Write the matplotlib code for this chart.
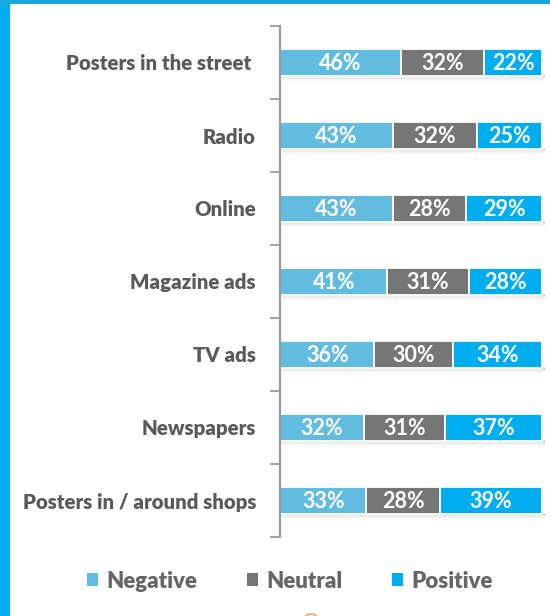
import matplotlib
matplotlib.use("Agg")
import matplotlib.pyplot as plt
from matplotlib.patches import Rectangle, Patch, Arc
import numpy as np

categories = ["Posters in the street ", "Radio", "Online", "Magazine ads",
              "TV ads", "Newspapers", "Posters in / around shops"]
negative = [46, 43, 43, 41, 36, 32, 33]
neutral = [32, 32, 28, 31, 30, 31, 28]
positive = [22, 25, 29, 28, 34, 37, 39]
series_names = ["Negative", "Neutral", "Positive"]
colors = ["#62BCE0", "#767676", "#00ADEF"]

plt.rcParams['font.family'] = ['Lato', 'DejaVu Sans']

W, H = 550, 616
fig = plt.figure(figsize=(W / 100, H / 100), dpi=100)

# axes placement (pixels)
ax_left, ax_right, ax_top, ax_bottom = 280, 545, 26, 537
ax = fig.add_axes([ax_left / W, 1 - ax_bottom / H, (ax_right - ax_left) / W, (ax_bottom - ax_top) / H])

n = len(categories)
y = np.arange(n)
bar_h = 0.38
px = 1 / 73.0  # one pixel in data y units

# shadows
for yi in y:
    for k in range(6):
        a = 0.13 * (1 - k / 6)
        ax.add_patch(Rectangle((0.6, yi + bar_h / 2 + k * px * 0.9 - px), 100.6, px * 1.2,
                               facecolor="black", alpha=a, edgecolor="none", zorder=1))

data = [negative, neutral, positive]
left = np.zeros(n)
for vals, c, name in zip(data, colors, series_names):
    vals = np.array(vals, dtype=float)
    bars = ax.barh(y, vals, left=left, height=bar_h, color=c, edgecolor="white",
                   linewidth=1.3, zorder=2, label=name)
    for b, v in zip(bars, vals):
        ax.text(b.get_x() + b.get_width() / 2, b.get_y() + b.get_height() / 2 + 0.01,
                f"{int(v)}%", ha="center", va="center", color="white",
                fontsize=15.5, fontweight=700, zorder=3)
    left += vals

ax.set_xlim(0, 101.1)
ax.set_ylim(n - 0.5, -0.5)
ax.set_xticks([])
ax.set_yticks(y)
ax.set_yticklabels(categories, fontsize=14.7, fontweight=800, color="#5A5A5A")
ax.tick_params(axis="y", which="major", length=0, pad=17.3)
ax.set_yticks(np.arange(-0.5, n, 1.0), minor=True)
ax.tick_params(axis="y", which="minor", length=7, width=1.3, color="#9A9A9A", direction="out")
for s in ["top", "right", "bottom"]:
    ax.spines[s].set_visible(False)
ax.spines["left"].set_color("#9A9A9A")
ax.spines["left"].set_linewidth(1.6)
ax.patch.set_alpha(0)

# legend
handles = [Patch(facecolor=c, edgecolor="none", label=nm) for c, nm in zip(colors, series_names)]
leg = fig.legend(handles=handles, loc="center", bbox_to_anchor=(0.527, 1 - 581 / H), ncol=3,
                 frameon=False, handlelength=0.5, handleheight=0.5, handletextpad=0.35,
                 columnspacing=2.25, prop={"size": 16, "weight": 800})
for t in leg.get_texts():
    t.set_color("#666666")

# blue border
fig.patches.append(Rectangle((0, 0), 10 / W, 1, transform=fig.transFigure,
                             facecolor="#00AEEF", edgecolor="none", zorder=10))
fig.patches.append(Rectangle((0, 1 - 3.5 / H), 1, 3.5 / H, transform=fig.transFigure,
                             facecolor="#17A9DB", edgecolor="none", zorder=10))
fig.patches.append(Arc((311 / W, 1 - 622 / H), 16 / W, 16 / H, theta1=40, theta2=140,
                       transform=fig.transFigure, edgecolor="#F2A36B", linewidth=1.2, zorder=10))

fig.savefig("out.png", dpi=100)
